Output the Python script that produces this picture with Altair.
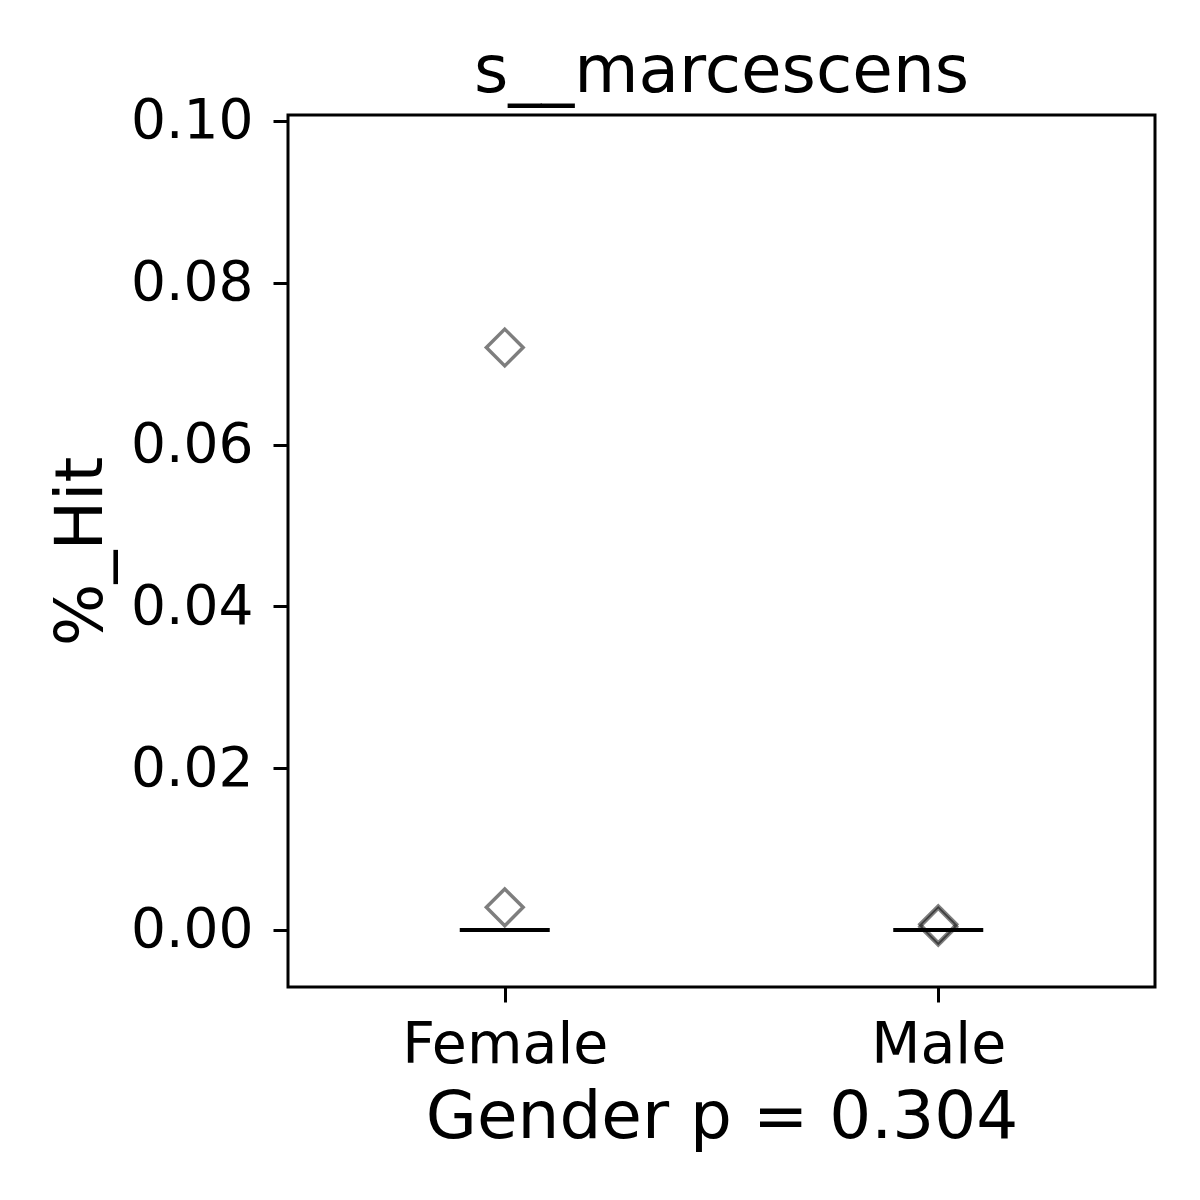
import altair as alt
import pandas as pd

groups = ["Female", "Male"]
point_group = ["Female", "Female", "Male", "Male"]
point_value = [0.0720, 0.0028, 0.0004, 0.0007]
median_value = [0.0, 0.0]
y_ticks = [0.0, 0.02, 0.04, 0.06, 0.08, 0.10]

pts = pd.DataFrame({"Gender": point_group, "hit": point_value})
med = pd.DataFrame({"Gender": groups, "hit": median_value})

FONT = "DejaVu Sans"

xenc = alt.X(
    "Gender:N",
    scale=alt.Scale(type="point", domain=groups, padding=0.5),
    axis=alt.Axis(
        title="Gender p = 0.304",
        labelAngle=0,
        labelFontSize=57,
        titleFontSize=66,
        labelPadding=15,
        titlePadding=12,
        labelLimit=0,
        tickSize=15,
        tickWidth=3,
        tickColor="black",
        labelColor="black",
        titleColor="black",
        titleFontWeight="normal",
        domain=False,
        grid=False,
    ),
)
yscale = alt.Scale(domain=[-0.00705, 0.10074], nice=False, zero=False)
yaxis = alt.Axis(
    title="%_Hit",
    values=y_ticks,
    format=".2f",
    labelFontSize=55,
    titleFontSize=66,
    labelPadding=20,
    titlePadding=15,
    labelLimit=0,
    tickSize=15,
    tickWidth=3,
    tickColor="black",
    labelColor="black",
    titleColor="black",
    titleFontWeight="normal",
    domain=False,
    grid=False,
)

points = alt.Chart(pts).mark_point(
    shape="diamond", filled=False, size=1350, stroke="black",
    strokeWidth=3.5, opacity=0.5,
).encode(x=xenc, y=alt.Y("hit:Q", scale=yscale, axis=yaxis))

medians = alt.Chart(med).mark_tick(
    size=90, thickness=4, color="black", opacity=1,
).encode(x=xenc, y=alt.Y("hit:Q", scale=yscale, axis=yaxis))

chart = (
    alt.layer(medians, points)
    .properties(
        width=867,
        height=872,
        title=alt.TitleParams(
            "s__marcescens", fontSize=66, font=FONT, fontWeight="normal",
            color="black", offset=-12, anchor="middle",
        ),
        autosize=alt.AutoSizeParams(type="none"),
        padding={"left": 280, "top": 107, "right": 37, "bottom": 205},
    )
    .configure(font=FONT, background="white")
    .configure_view(stroke="black", strokeWidth=3)
    .configure_axis(labelFont=FONT, titleFont=FONT)
)

chart.save("out.html", embed_options={"renderer": "svg", "actions": False})
